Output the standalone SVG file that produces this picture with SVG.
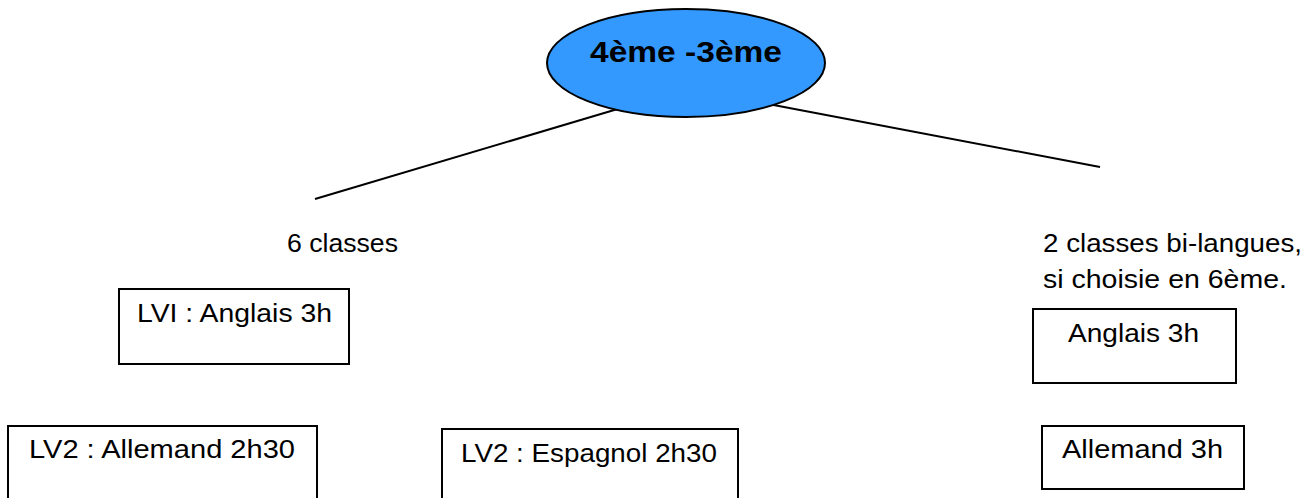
<svg xmlns="http://www.w3.org/2000/svg" width="1315" height="498" viewBox="0 0 1315 498">
<style>
.box{fill:#ffffff;stroke:#000000;stroke-width:2}
.lbl{font-family:"Liberation Sans",Arial,sans-serif;font-size:25px;fill:#000000}
.title{font-family:"Liberation Sans",Arial,sans-serif;font-size:30px;font-weight:bold;fill:#000000}
.conn{stroke:#000000;stroke-width:2;fill:none}
</style>
<rect width="1315" height="498" fill="#ffffff"/>
<g id="connectors">
<line class="conn" x1="621" y1="108" x2="315" y2="199"/>
<line class="conn" x1="763" y1="103" x2="1100" y2="167"/>
</g>
<g id="root">
<ellipse cx="686" cy="63" rx="139" ry="54" fill="#3399ff" stroke="#000000" stroke-width="2"/>
<text class="title" x="590" y="62" textLength="192" lengthAdjust="spacingAndGlyphs">4ème -3ème</text>
</g>
<g id="six-classes">
<text class="lbl" x="287" y="252" textLength="111" lengthAdjust="spacingAndGlyphs">6 classes</text>
</g>
<g id="bilangues">
<text class="lbl" x="1043" y="252" textLength="259" lengthAdjust="spacingAndGlyphs">2 classes bi-langues,</text>
<text class="lbl" x="1043" y="288" textLength="244" lengthAdjust="spacingAndGlyphs">si choisie en 6ème.</text>
</g>
<g id="lv1-anglais">
<rect class="box" x="119" y="289" width="230" height="75"/>
<text class="lbl" x="137" y="322" textLength="195" lengthAdjust="spacingAndGlyphs">LVI : Anglais 3h</text>
</g>
<g id="lv2-allemand">
<rect class="box" x="8" y="426" width="309" height="80"/>
<text class="lbl" x="29" y="458" textLength="266" lengthAdjust="spacingAndGlyphs">LV2 : Allemand 2h30</text>
</g>
<g id="lv2-espagnol">
<rect class="box" x="442" y="429" width="296" height="80"/>
<text class="lbl" x="461" y="462" textLength="256" lengthAdjust="spacingAndGlyphs">LV2 : Espagnol 2h30</text>
</g>
<g id="bi-anglais">
<rect class="box" x="1033" y="309" width="203" height="74"/>
<text class="lbl" x="1068" y="342" textLength="131" lengthAdjust="spacingAndGlyphs">Anglais 3h</text>
</g>
<g id="bi-allemand">
<rect class="box" x="1042" y="426" width="202" height="63"/>
<text class="lbl" x="1062" y="458" textLength="161" lengthAdjust="spacingAndGlyphs">Allemand 3h</text>
</g>
</svg>
